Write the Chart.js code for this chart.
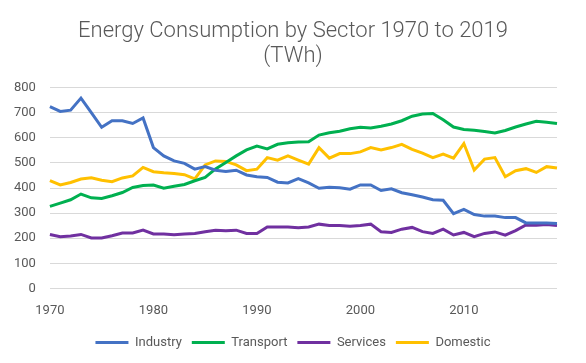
<!DOCTYPE html>
<html>
<head>
<meta charset="utf-8">
<script src="https://cdn.jsdelivr.net/npm/chart.js@4"></script>
<style>
  html, body { margin: 0; padding: 0; background: #fff; }
  #wrap { width: 586px; height: 363px; }
</style>
</head>
<body>
<div id="wrap"><canvas id="energyChart"></canvas></div>
<script>
// ── Data (TWh) ────────────────────────────────────────────
const YEARS = Array.from({ length: 50 }, (_, i) => String(1970 + i));

const industry = [
  724, 705, 710, 758, 700, 642, 668, 668, 657, 679,
  561, 528, 508, 498, 475, 485, 471, 466, 471, 452,
  445, 442, 423, 420, 437, 420, 399, 403, 401, 395,
  412, 412, 390, 397, 381, 373, 364, 353, 351, 298,
  315, 294, 288, 288, 282, 282, 261, 261, 261, 259,
];
const transport = [
  327, 340, 353, 376, 361, 358, 369, 382, 402, 410,
  412, 399, 407, 414, 429, 442, 476, 502, 528, 552,
  567, 556, 574, 580, 583, 584, 611, 620, 626, 636,
  642, 639, 646, 655, 668, 686, 695, 697, 672, 643,
  633, 630, 625, 619, 629, 643, 655, 666, 662, 657,
];
const services = [
  215, 206, 209, 215, 201, 201, 210, 221, 221, 232,
  217, 217, 214, 217, 219, 226, 232, 230, 232, 219,
  219, 245, 245, 245, 242, 245, 256, 251, 251, 248,
  251, 256, 226, 223, 236, 243, 226, 219, 236, 213,
  223, 206, 219, 225, 212, 230, 253, 252, 255, 251,
];
const domestic = [
  429, 412, 422, 436, 441, 431, 425, 440, 448, 482,
  465, 461, 458, 453, 436, 492, 508, 506, 492, 469,
  475, 521, 511, 528, 511, 495, 561, 519, 537, 537,
  544, 561, 552, 561, 574, 554, 539, 521, 535, 519,
  577, 472, 515, 521, 445, 469, 477, 462, 485, 480,
];

const SERIES = [
  { label: 'Industry',  data: industry,  color: '#4472C4' },
  { label: 'Transport', data: transport, color: '#00B050' },
  { label: 'Services',  data: services,  color: '#7030A0' },
  { label: 'Domestic',  data: domestic,  color: '#FFC000' },
];

const TEXT_COLOR = '#595959';
const FONT = "Roboto, 'Open Sans', sans-serif";

new Chart(document.getElementById('energyChart'), {
  type: 'line',
  data: {
    labels: YEARS,
    datasets: SERIES.map(s => ({
      label: s.label,
      data: s.data,
      borderColor: s.color,
      backgroundColor: s.color,
      borderWidth: 3,
      pointRadius: 0,
      tension: 0,
      fill: false,
    })),
  },
  options: {
    responsive: true, maintainAspectRatio: false, animation: false,
    layout: { padding: { left: 0, right: 0, top: 15, bottom: 4 } },
    plugins: {
      title: {
        display: true,
        text: ['Energy Consumption by Sector 1970 to 2019', '(TWh)'],
        color: TEXT_COLOR,
        font: { family: FONT, size: 22, weight: '300', lineHeight: 1.15 },
        padding: { top: 4, bottom: 18 },
      },
      legend: {
        position: 'bottom',
        labels: {
          boxWidth: 33,
          boxHeight: 3,
          color: TEXT_COLOR,
          font: { family: FONT, size: 13 },
          padding: 10,
          // flat coloured bars instead of outlined boxes
          generateLabels: chart => Chart.defaults.plugins.legend.labels.generateLabels(chart)
            .map(item => ({ ...item, lineWidth: 0 })),
        },
      },
      tooltip: { enabled: false },
    },
    scales: {
      x: {
        offset: false,
        grid: { display: false },
        border: { display: false },
        ticks: {
          autoSkip: false, maxRotation: 0, padding: 7,
          color: TEXT_COLOR, font: { family: FONT, size: 13 },
          callback: (v, i) => (1970 + i) % 10 === 0 ? YEARS[i] : null,
        },
      },
      y: {
        min: 0, max: 800,
        grid: { color: '#d9d9d9', drawTicks: false },
        border: { display: false },
        ticks: { stepSize: 100, padding: 14, color: TEXT_COLOR, font: { family: FONT, size: 13 } },
      },
      // empty right-hand gutter so the title stays centred on the page
      gutter: {
        position: 'right', min: 0, max: 800,
        grid: { display: false }, border: { display: false },
        ticks: { display: false },
        afterFit: scale => { scale.width = 29; },
      },
    },
  },
});
</script>
</body>
</html>
